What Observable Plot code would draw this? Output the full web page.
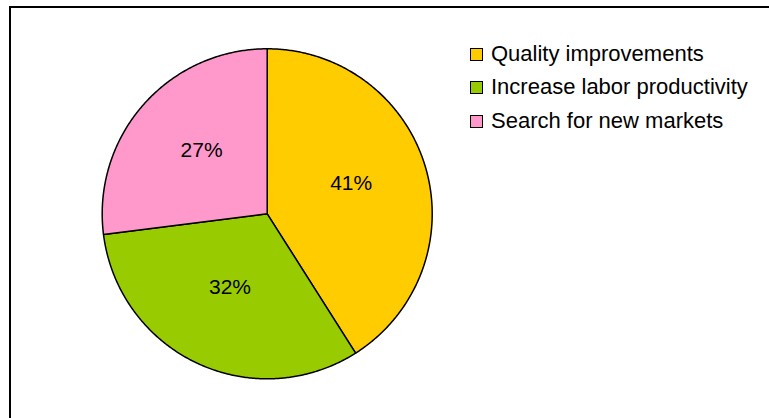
<!DOCTYPE html>
<html><head><meta charset="utf-8">
<script src="https://cdn.jsdelivr.net/npm/d3@7"></script>
<script src="https://cdn.jsdelivr.net/npm/@observablehq/plot@0.6"></script>
<style>
html,body{margin:0;padding:0;background:#fff;overflow:hidden;width:769px;height:418px;}
#frame{position:absolute;left:9px;top:6px;width:760px;height:412px;border-left:2px solid #000;border-top:2px solid #000;box-sizing:border-box}
#chart{position:absolute;left:0;top:0}
#legend{position:absolute;left:470px;top:0;font-family:"Liberation Sans",Arial,sans-serif;font-size:22px;color:#000}
.item{position:absolute;left:0;display:flex;align-items:center;white-space:nowrap;height:30px}
.sw{width:11px;height:11px;border:1px solid #000;margin-right:8px;flex:none}
</style></head><body>
<div id="frame"></div><div id="chart"></div><div id="legend"></div>
<script>
const categories = ["Quality improvements", "Increase labor productivity", "Search for new markets"];
const values = [41, 32, 27];
const labels = ["41%", "32%", "27%"];
const colors = ["#FFCC00", "#99CC00", "#FF99CC"];

const data = categories.map((c, i) => ({cat: c, value: values[i], label: labels[i]}));
const arcs = d3.pie().sort(null).value(d => d.value)(data);

// slice outlines in unit coordinates (0 angle at 12 o'clock, clockwise)
const rows = [];
for (const a of arcs) {
  rows.push({cat: a.data.cat, x: 0, y: 0});
  const n = Math.max(2, Math.ceil((a.endAngle - a.startAngle) / (Math.PI / 360)));
  for (let k = 0; k <= n; k++) {
    const t = a.startAngle + (a.endAngle - a.startAngle) * k / n;
    rows.push({cat: a.data.cat, x: Math.sin(t), y: Math.cos(t)});
  }
}
const labelRows = arcs.map(a => {
  const m = (a.startAngle + a.endAngle) / 2;
  return {text: a.data.label, x: 0.53 * Math.sin(m), y: 0.53 * Math.cos(m)};
});

const cx = 266.7, cy = 213.3, r = 165;
const chart = Plot.plot({
  width: 769, height: 418, margin: 0,
  style: {background: "transparent", overflow: "visible"},
  x: {domain: [-1, 1], range: [cx - r, cx + r], axis: null},
  y: {domain: [-1, 1], range: [cy + r, cy - r], axis: null},
  color: {domain: categories, range: colors},
  marks: [
    Plot.line(rows, {x: "x", y: "y", z: "cat", fill: "cat", stroke: "#000", strokeWidth: 1.5, curve: "linear-closed", strokeLinejoin: "round"}),
    Plot.text(labelRows, {x: "x", y: "y", text: "text", dy: -6, fontSize: 21, fontFamily: "Liberation Sans, Arial, sans-serif", fill: "#000"})
  ]
});
document.getElementById("chart").appendChild(chart);

const legend = document.getElementById("legend");
const tops = [39, 72, 106];
categories.forEach((c, i) => {
  const it = document.createElement("div");
  it.className = "item";
  it.style.top = tops[i] + "px";
  const sw = document.createElement("div");
  sw.className = "sw";
  sw.style.background = colors[i];
  const tx = document.createElement("span");
  tx.textContent = c;
  it.appendChild(sw); it.appendChild(tx);
  legend.appendChild(it);
});
</script>
</body></html>
